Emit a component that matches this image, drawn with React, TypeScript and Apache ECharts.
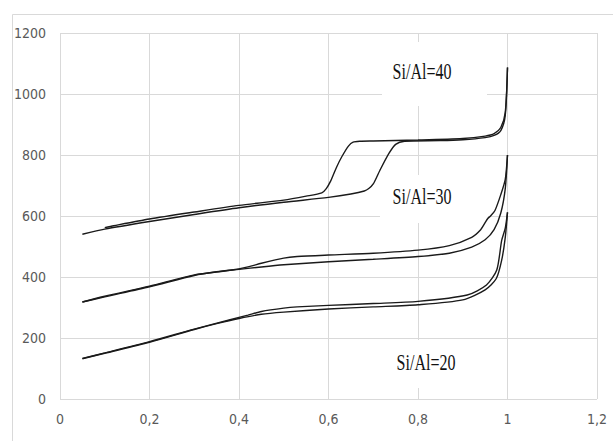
import React, { useEffect, useRef } from "react";
import * as echarts from "echarts";

// Relative pressure (x) and adsorbed volume (y) for each branch
const ads40X = [0.05, 0.1, 0.2, 0.3, 0.4, 0.5, 0.6, 0.65, 0.68, 0.69, 0.7, 0.715, 0.735, 0.75, 0.77, 0.85, 0.9, 0.95, 0.97, 0.985, 0.995, 1.0];
const ads40Y = [540, 557, 582, 605, 627, 645, 661, 672, 682, 690, 705, 750, 805, 835, 845, 847, 850, 857, 864, 880, 930, 1087];
const des40X = [1.0, 0.995, 0.985, 0.97, 0.95, 0.9, 0.8, 0.7, 0.67, 0.655, 0.645, 0.63, 0.618, 0.605, 0.595, 0.585, 0.55, 0.5, 0.4, 0.3, 0.2, 0.12, 0.1];
const des40Y = [1087, 940, 890, 870, 862, 854, 849, 846, 845, 842, 830, 795, 760, 715, 690, 676, 665, 652, 635, 613, 590, 568, 562];

const ads30X = [0.05, 0.1, 0.2, 0.3, 0.35, 0.4, 0.45, 0.5, 0.6, 0.7, 0.8, 0.87, 0.92, 0.95, 0.97, 0.985, 0.995, 1.0];
const ads30Y = [318, 335, 368, 405, 417, 425, 433, 440, 450, 458, 467, 478, 498, 522, 555, 610, 690, 800];
const des30X = [1.0, 0.995, 0.985, 0.972, 0.962, 0.956, 0.95, 0.94, 0.92, 0.87, 0.8, 0.7, 0.6, 0.53, 0.5, 0.45, 0.42, 0.38, 0.3, 0.2, 0.1, 0.05];
const des30Y = [800, 720, 670, 618, 600, 592, 578, 555, 530, 503, 488, 478, 472, 467, 462, 445, 433, 422, 407, 370, 337, 318];

const ads20X = [0.05, 0.1, 0.2, 0.3, 0.35, 0.4, 0.45, 0.5, 0.6, 0.7, 0.8, 0.9, 0.95, 0.975, 0.987, 0.995, 1.0];
const ads20Y = [132, 150, 186, 228, 247, 264, 278, 285, 295, 302, 309, 325, 358, 395, 455, 530, 612];
const des20X = [1.0, 0.995, 0.987, 0.976, 0.953, 0.91, 0.8, 0.7, 0.6, 0.53, 0.5, 0.45, 0.42, 0.38, 0.3, 0.2, 0.1, 0.05];
const des20Y = [612, 560, 520, 423, 374, 341, 320, 313, 307, 302, 298, 287, 275, 260, 229, 188, 151, 133];

const seriesLabels = ["Si/Al=40", "Si/Al=30", "Si/Al=20"];

const zip = (xs: number[], ys: number[]) => xs.map((x, i) => [x, ys[i]]);

const branches = [
  zip(ads40X, ads40Y),
  zip(des40X, des40Y),
  zip(ads30X, ads30Y),
  zip(des30X, des30Y),
  zip(ads20X, ads20Y),
  zip(des20X, des20Y),
];

const labelFont = "'Liberation Sans Narrow', 'DejaVu Sans Condensed', 'Open Sans', sans-serif";

export default function App() {
  const ref = useRef<HTMLDivElement>(null);
  useEffect(() => {
    if (!ref.current) return;
    const chart = echarts.init(ref.current, null, { renderer: "svg" });
    const boxes = [
      { label: seriesLabels[0], box: [382, 42, 105, 64], c: [422, 72] },
      { label: seriesLabels[1], box: [380, 175, 108, 48], c: [422, 197] },
      { label: seriesLabels[2], box: [385, 340, 108, 48], c: [426, 363] },
    ];
    const graphic: any[] = [
      {
        type: "rect",
        left: 10,
        top: 12,
        shape: { x: 0, y: 0, width: 700, height: 500 },
        style: { fill: "none", stroke: "#d9d9d9", lineWidth: 1 },
        silent: true,
        z: 0,
      },
    ];
    boxes.forEach((b) => {
      graphic.push({
        type: "rect",
        shape: { x: b.box[0], y: b.box[1], width: b.box[2], height: b.box[3] },
        style: { fill: "#ffffff" },
        silent: true,
        z: 1,
      });
      graphic.push({
        type: "text",
        x: b.c[0],
        y: b.c[1],
        scaleY: 1.38,
        style: {
          text: b.label,
          fill: "#111111",
          font: "16px 'Liberation Serif', 'Times New Roman', serif",
          align: "center",
          verticalAlign: "middle",
        },
        silent: true,
        z: 3,
      });
    });
    chart.setOption({
      animation: false,
      backgroundColor: "#ffffff",
      grid: { left: 60, top: 33, right: 16, bottom: 42 },
      xAxis: {
        type: "value",
        min: 0,
        max: 1.2,
        interval: 0.2,
        axisLine: { show: false },
        axisTick: { show: false },
        splitLine: { show: true, lineStyle: { color: "#d9d9d9", width: 1 } },
        axisLabel: {
          color: "#595959",
          fontSize: 14,
          fontFamily: labelFont,
          margin: 13,
          formatter: (v: number) => {
            const r = Math.round(v * 10) / 10;
            return Number.isInteger(r) ? String(r) : r.toFixed(1).replace(".", ",");
          },
        },
      },
      yAxis: {
        type: "value",
        min: 0,
        max: 1200,
        interval: 200,
        axisLine: { show: false },
        axisTick: { show: false },
        splitLine: { show: true, lineStyle: { color: "#d9d9d9", width: 1 } },
        axisLabel: {
          color: "#595959",
          fontSize: 14,
          fontFamily: labelFont,
          margin: 14,
          formatter: (v: number) => String(Math.round(v)),
        },
      },
      series: branches.map((d) => ({
        type: "line",
        data: d,
        showSymbol: false,
        smooth: 0.25,
        lineStyle: { color: "#1a1a1a", width: 1.4 },
        z: 2,
      })),
      graphic,
    });
    return () => chart.dispose();
  }, []);
  return (
    <div
      ref={ref}
      style={{ position: "fixed", left: 0, top: 0, width: 613, height: 441, background: "#fff" }}
    />
  );
}
